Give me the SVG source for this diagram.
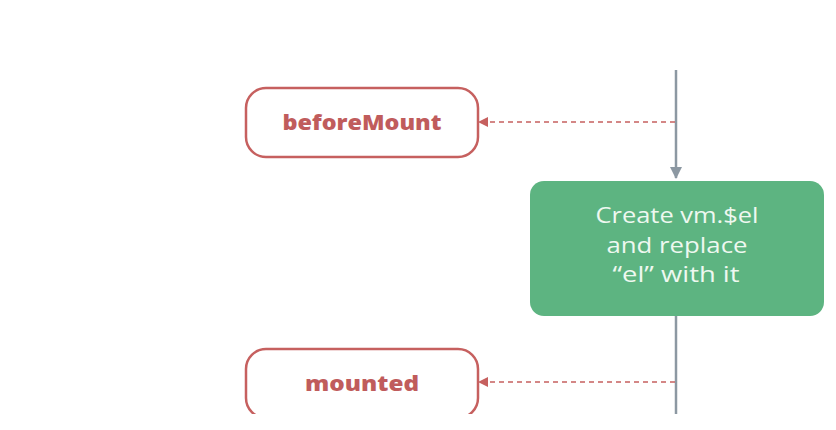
<svg xmlns="http://www.w3.org/2000/svg" width="836" height="430" viewBox="0 0 836 430">
<defs>
<style>
.hook{fill:#fff;stroke:#c6605f;stroke-width:2.5}
.hooktxt{font-family:"Open Sans",Lato,sans-serif;font-weight:800;font-size:21px;fill:#c05c5c;text-anchor:middle}
.main{stroke:#8c98a2;stroke-width:2.5;fill:none}
.dash{stroke:#c6605f;stroke-width:1.6;stroke-dasharray:5 4;fill:none}
.gtxt{font-family:"Open Sans",Lato,sans-serif;font-size:22px;fill:#eef8f0;text-anchor:middle}
</style>
<marker id="ah" markerWidth="10" markerHeight="10" refX="9" refY="5" orient="auto" markerUnits="userSpaceOnUse">
<path d="M0,0 L10,5 L0,10 Z" fill="#c6605f"/>
</marker>
<marker id="gh" markerWidth="12" markerHeight="12" refX="11" refY="6" orient="auto" markerUnits="userSpaceOnUse">
<path d="M0,0 L12,6 L0,12 Z" fill="#8c98a2"/>
</marker>
<clipPath id="clip"><rect x="0" y="0" width="836" height="414"/></clipPath>
</defs>
<rect width="836" height="430" fill="#fff"/>
<g id="connectors" clip-path="url(#clip)">
<line class="main" x1="676" y1="70" x2="676" y2="178" marker-end="url(#gh)"/>
<line class="main" x1="676" y1="316" x2="676" y2="420"/>
<line class="dash" x1="675" y1="122" x2="479" y2="122" marker-end="url(#ah)"/>
<line class="dash" x1="675" y1="382" x2="479" y2="382" marker-end="url(#ah)"/>
</g>
<g id="beforeMount">
<rect class="hook" x="246" y="88" width="232" height="69" rx="20"/>
<text class="hooktxt" x="362" y="130" textLength="159" lengthAdjust="spacingAndGlyphs">beforeMount</text>
</g>
<g id="createEl">
<rect x="530" y="181" width="294" height="135" rx="14" fill="#5db481"/>
<text class="gtxt" x="677" y="223" textLength="163" lengthAdjust="spacingAndGlyphs">Create vm.$el</text>
<text class="gtxt" x="677" y="253" textLength="141" lengthAdjust="spacingAndGlyphs">and replace</text>
<text class="gtxt" x="676" y="282" textLength="127" lengthAdjust="spacingAndGlyphs">“el” with it</text>
</g>
<g id="mounted" clip-path="url(#clip)">
<rect class="hook" x="246" y="349" width="232" height="69" rx="20"/>
<text class="hooktxt" x="362" y="391" textLength="114" lengthAdjust="spacingAndGlyphs">mounted</text>
</g>
</svg>
